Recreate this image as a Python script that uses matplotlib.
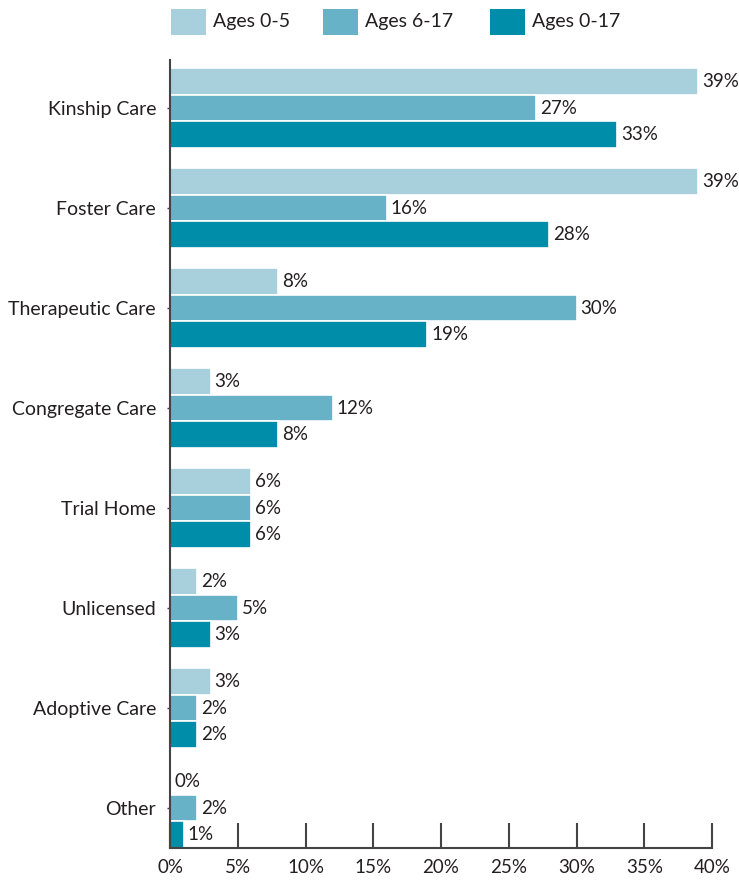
import matplotlib.pyplot as plt
from matplotlib.patches import Rectangle
import numpy as np

categories = ['Kinship Care', 'Foster Care', 'Therapeutic Care', 'Congregate Care',
              'Trial Home', 'Unlicensed', 'Adoptive Care', 'Other']
ages_0_5 = [39, 39, 8, 3, 6, 2, 3, 0]
ages_6_17 = [27, 16, 30, 12, 6, 5, 2, 2]
ages_0_17 = [33, 28, 19, 8, 6, 3, 2, 1]
series_names = ['Ages 0-5', 'Ages 6-17', 'Ages 0-17']
colors = ['#A8CFDC', '#67B2C7', '#008DAA']

plt.rcParams['font.family'] = ['Lato', 'DejaVu Sans']
W, H = 739, 886
fig = plt.figure(figsize=(W/100, H/100), dpi=100)
ax = fig.add_axes([170/W, 1-848/H, (712-170)/W, (848-60)/H])

y = np.arange(len(categories))
h = 0.265
for k, (vals, name, c) in enumerate(zip([ages_0_5, ages_6_17, ages_0_17], series_names, colors)):
    pos = y + (k-1)*h
    ax.barh(pos, vals, height=h, color=c, edgecolor='white', linewidth=1.2, label=name)
    for p, v in zip(pos, vals):
        ax.text(v+0.3, p, f'{v}%', va='center', ha='left', fontsize=13.5, color='#231f20', clip_on=False)

ax.set_ylim(7.40, -0.48)
ax.set_xlim(0, 40)
ax.set_yticks(y)
ax.set_yticklabels(categories, fontsize=14, color='#231f20')
ax.set_xticks(np.arange(0, 41, 5))
ax.set_xticklabels([f'{t}%' for t in range(0, 41, 5)], fontsize=13.5, color='#231f20')
ax.tick_params(axis='x', direction='in', length=18, width=1.5, color='#444444', pad=8)
ax.tick_params(axis='y', length=2, width=1, color='#444444', pad=8)
for s in ['top', 'right']:
    ax.spines[s].set_visible(False)
for s in ['left', 'bottom']:
    ax.spines[s].set_color('#444444')
    ax.spines[s].set_linewidth(1.5)

# legend drawn by hand to match the spacing of the original
leg_x = [171, 323, 490]
for lx, name, c in zip(leg_x, series_names, colors):
    fig.patches.append(Rectangle((lx/W, 1-35/H), 35/W, 26/H, transform=fig.transFigure,
                                 facecolor=c, edgecolor='none'))
    fig.text((lx+42)/W, 1-22/H, name, va='center', ha='left', fontsize=14, color='#231f20')

fig.savefig('out.png', dpi=100)
